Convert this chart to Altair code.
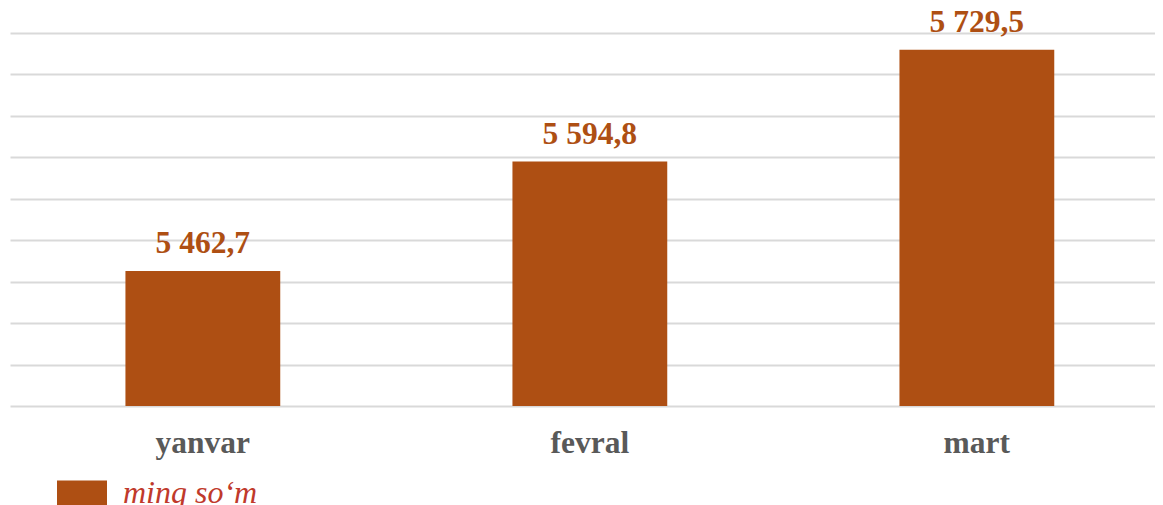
import altair as alt
import pandas as pd

months = ["yanvar", "fevral", "mart"]
values = [5462.7, 5594.8, 5729.5]
series_name = "ming so\u2018m"
grid_values = [5300, 5350, 5400, 5450, 5500, 5550, 5600, 5650, 5700, 5750]
axis_min = 5300

def fmt(v):
    s = f"{v:,.1f}"
    return s.replace(",", " ").replace(".", ",")

df = pd.DataFrame({
    "month": months,
    "value": values,
    "label": [fmt(v) for v in values],
    "series": [series_name] * len(months),
})

BAR = "#AE4F13"

base = alt.Chart(df).encode(
    x=alt.X("month:N", sort=months,
            scale=alt.Scale(paddingInner=0.6, paddingOuter=0.2793, align=0.534),
            axis=alt.Axis(title=None, labelAngle=0, domain=False, ticks=False,
                          labelFont="Liberation Serif", labelFontSize=31.5,
                          labelFontWeight="bold", labelColor="#595959",
                          labelPadding=21)),
    y=alt.Y("value:Q", scale=alt.Scale(domain=[axis_min, 5780], zero=False, nice=False),
            axis=alt.Axis(title=None, labels=False, ticks=False, domain=False,
                          values=grid_values, grid=True, gridColor="#d9d9d9",
                          gridWidth=2)),
)

bars = base.mark_bar().encode(
    y2=alt.Y2(datum=axis_min),
    color=alt.Color("series:N", scale=alt.Scale(range=[BAR]),
                    legend=alt.Legend(title=None, orient="none", legendX=47, legendY=460,
                                      symbolType="M-1,-0.5H1V0.5H-1Z", symbolSize=2500,
                                      symbolStrokeWidth=0, symbolOpacity=1,
                                      labelFont="Liberation Serif", labelFontSize=32,
                                      labelFontStyle="italic", labelColor="#C0392B",
                                      labelOffset=16, padding=0)),
)

text = base.mark_text(baseline="alphabetic", dy=-18, font="Liberation Serif",
                      fontSize=31.5, fontWeight="bold", color=BAR).encode(
    text="label:N"
)

chart = (bars + text).properties(
    width=1145, height=398,
    autosize=alt.AutoSizeParams(type="none"),
    padding={"left": 2, "top": 0, "right": 0, "bottom": 99},
).configure_view(strokeWidth=0)

chart.save("out.html", embed_options={"renderer": "svg", "actions": False})
